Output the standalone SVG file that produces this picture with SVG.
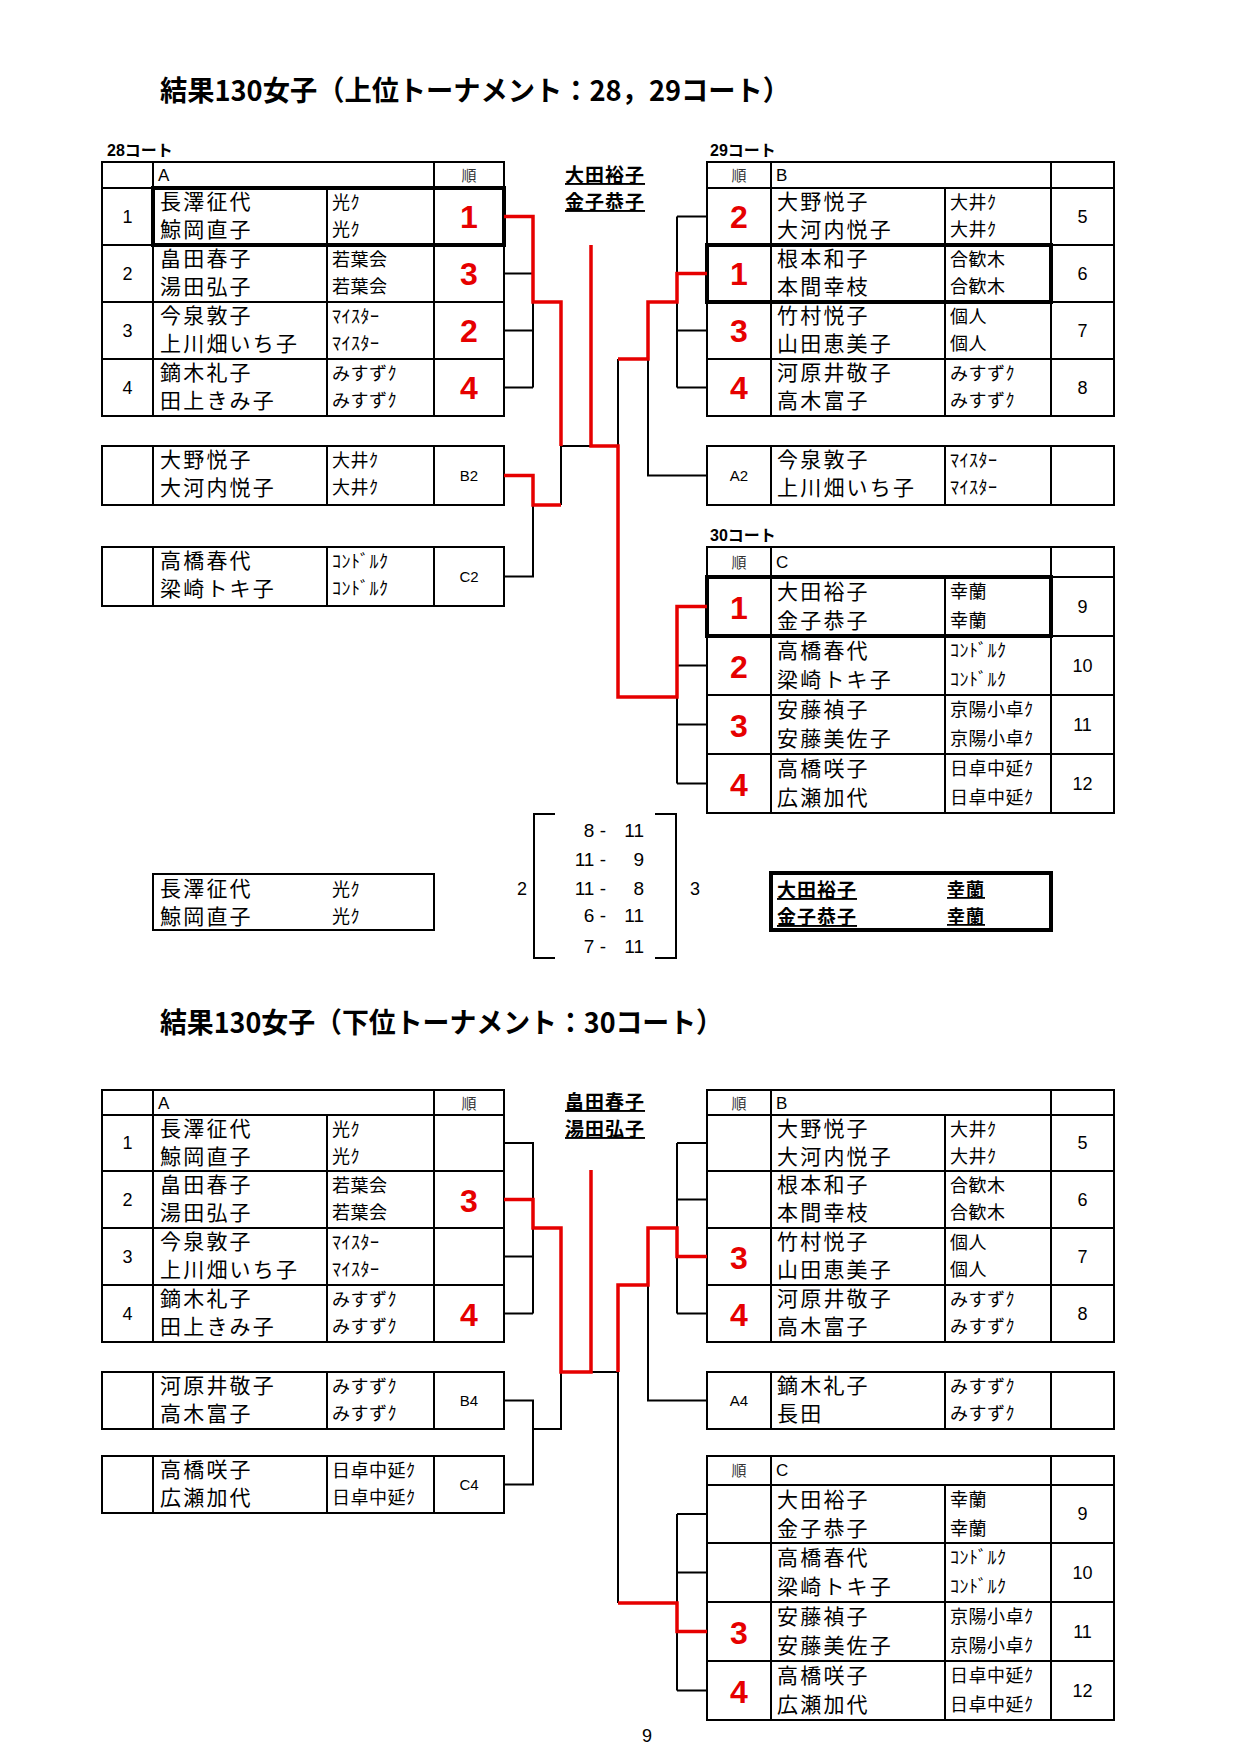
<svg xmlns="http://www.w3.org/2000/svg" width="1240" height="1754" viewBox="0 0 1240 1754">
<style>
.g{fill:none;stroke:#000;stroke-width:2}
.tk{fill:none;stroke:#000;stroke-width:4}
.bk{fill:none;stroke:#000;stroke-width:2}
.rd{fill:none;stroke:#e60000;stroke-width:3.5}
text{font-family:"Noto Sans CJK JP",sans-serif;fill:#000}
.nm{font-size:21px;letter-spacing:2.2px}
.cl{font-size:18px;letter-spacing:0.5px}
.n{font-family:"Liberation Sans",Arial,sans-serif;font-size:18px;text-anchor:middle}
.h{font-family:"Liberation Sans",Arial,sans-serif;font-size:17px}
.j{font-size:15px;text-anchor:middle;fill:#333}
.rk{font-family:"Liberation Sans",Arial,sans-serif;font-size:32px;font-weight:bold;fill:#e60000;text-anchor:middle}
.lb{font-family:"Liberation Sans",Arial,sans-serif;font-size:15px;text-anchor:middle}
.tt{font-size:28px;font-weight:bold}
.ct{font-family:"Liberation Sans","Noto Sans CJK JP",sans-serif;font-size:16px;font-weight:bold}
.w{font-size:19px;font-weight:bold;text-decoration:underline;letter-spacing:1px}
.sc{font-family:"Liberation Sans",Arial,sans-serif;font-size:19px;text-anchor:end}
.sl{font-family:"Liberation Sans",Arial,sans-serif;font-size:18px;text-anchor:middle}
</style>
<rect width="1240" height="1754" fill="#fff"/>

<g id="titles">
<text class="tt" x="160" y="101" textLength="630" lengthAdjust="spacingAndGlyphs">結果130女子（上位トーナメント：28，29コート）</text>
<text class="tt" x="160" y="1033" textLength="563" lengthAdjust="spacingAndGlyphs">結果130女子（下位トーナメント：30コート）</text>
<text class="ct" x="107" y="156">28コート</text>
<text class="ct" x="710" y="156">29コート</text>
<text class="ct" x="710" y="541">30コート</text>
<text class="w" x="565" y="182">大田裕子</text>
<text class="w" x="565" y="209">金子恭子</text>
<text class="w" x="565" y="1109">畠田春子</text>
<text class="w" x="565" y="1136">湯田弘子</text>
<text class="n" x="647" y="1742">9</text>
</g>

<!-- ===== UPPER A ===== -->
<g id="up-A">
<rect class="g" x="102" y="162" width="402" height="254"/>
<path class="g" d="M102 188H504M102 245H504M102 302H504M102 359H504M153 162V416M434 162V416M327 188V416"/>
<text class="h" x="158" y="181">A</text>
<text class="j" x="469" y="181">順</text>
<text class="n" x="127.5" y="222.5">1</text>
<text class="nm" x="160" y="209">長澤征代</text><text class="nm" x="160" y="237">鯨岡直子</text>
<text class="cl" x="332" y="209">光ｸ</text><text class="cl" x="332" y="236">光ｸ</text>
<text class="rk" x="469" y="228">1</text>
<text class="n" x="127.5" y="279.5">2</text>
<text class="nm" x="160" y="266">畠田春子</text><text class="nm" x="160" y="294">湯田弘子</text>
<text class="cl" x="332" y="266">若葉会</text><text class="cl" x="332" y="293">若葉会</text>
<text class="rk" x="469" y="285">3</text>
<text class="n" x="127.5" y="336.5">3</text>
<text class="nm" x="160" y="323">今泉敦子</text><text class="nm" x="160" y="351">上川畑いち子</text>
<text class="cl" x="332" y="323">ﾏｲｽﾀｰ</text><text class="cl" x="332" y="350">ﾏｲｽﾀｰ</text>
<text class="rk" x="469" y="342">2</text>
<text class="n" x="127.5" y="393.5">4</text>
<text class="nm" x="160" y="380">鏑木礼子</text><text class="nm" x="160" y="408">田上きみ子</text>
<text class="cl" x="332" y="380">みすずｸ</text><text class="cl" x="332" y="407">みすずｸ</text>
<text class="rk" x="469" y="399">4</text>
<rect class="tk" x="153" y="188" width="351" height="57"/>
</g>

<!-- ===== UPPER B ===== -->
<g id="up-B">
<rect class="g" x="707" y="162" width="407" height="254"/>
<path class="g" d="M707 188H1114M707 245H1114M707 302H1114M707 359H1114M771 162V416M1051 162V416M945 188V416"/>
<text class="j" x="739" y="181">順</text>
<text class="h" x="776" y="181">B</text>
<text class="rk" x="739" y="228">2</text>
<text class="nm" x="777" y="209">大野悦子</text><text class="nm" x="777" y="237">大河内悦子</text>
<text class="cl" x="950" y="209">大井ｸ</text><text class="cl" x="950" y="236">大井ｸ</text>
<text class="n" x="1082.5" y="222.5">5</text>
<text class="rk" x="739" y="285">1</text>
<text class="nm" x="777" y="266">根本和子</text><text class="nm" x="777" y="294">本間幸枝</text>
<text class="cl" x="950" y="266">合歓木</text><text class="cl" x="950" y="293">合歓木</text>
<text class="n" x="1082.5" y="279.5">6</text>
<text class="rk" x="739" y="342">3</text>
<text class="nm" x="777" y="323">竹村悦子</text><text class="nm" x="777" y="351">山田恵美子</text>
<text class="cl" x="950" y="323">個人</text><text class="cl" x="950" y="350">個人</text>
<text class="n" x="1082.5" y="336.5">7</text>
<text class="rk" x="739" y="399">4</text>
<text class="nm" x="777" y="380">河原井敬子</text><text class="nm" x="777" y="408">高木富子</text>
<text class="cl" x="950" y="380">みすずｸ</text><text class="cl" x="950" y="407">みすずｸ</text>
<text class="n" x="1082.5" y="393.5">8</text>
<rect class="tk" x="707" y="245" width="344" height="57"/>
</g>

<g id="up-B2">
<rect class="g" x="102" y="446" width="402" height="59"/>
<path class="g" d="M153 446V505M327 446V505M434 446V505"/>
<text class="nm" x="160" y="467">大野悦子</text><text class="nm" x="160" y="495">大河内悦子</text>
<text class="cl" x="332" y="467">大井ｸ</text><text class="cl" x="332" y="494">大井ｸ</text>
<text class="lb" x="469" y="481">B2</text>
</g>

<g id="up-C2">
<rect class="g" x="102" y="547" width="402" height="59"/>
<path class="g" d="M153 547V606M327 547V606M434 547V606"/>
<text class="nm" x="160" y="568">高橋春代</text><text class="nm" x="160" y="596">梁崎トキ子</text>
<text class="cl" x="332" y="568">ｺﾝﾄﾞﾙｸ</text><text class="cl" x="332" y="595">ｺﾝﾄﾞﾙｸ</text>
<text class="lb" x="469" y="582">C2</text>
</g>

<g id="up-A2">
<rect class="g" x="707" y="446" width="407" height="59"/>
<path class="g" d="M771 446V505M945 446V505M1051 446V505"/>
<text class="lb" x="739" y="481">A2</text>
<text class="nm" x="777" y="467">今泉敦子</text><text class="nm" x="777" y="495">上川畑いち子</text>
<text class="cl" x="950" y="467">ﾏｲｽﾀｰ</text><text class="cl" x="950" y="494">ﾏｲｽﾀｰ</text>
</g>

<!-- ===== UPPER C ===== -->
<g id="up-C">
<rect class="g" x="707" y="547" width="407" height="266"/>
<path class="g" d="M707 577H1114M707 636H1114M707 695H1114M707 754H1114M771 547V813M1051 547V813M945 577V813"/>
<text class="j" x="739" y="568">順</text>
<text class="h" x="776" y="568">C</text>
<text class="rk" x="739" y="618.5">1</text>
<text class="nm" x="777" y="599">大田裕子</text><text class="nm" x="777" y="628">金子恭子</text>
<text class="cl" x="950" y="598">幸蘭</text><text class="cl" x="950" y="627">幸蘭</text>
<text class="n" x="1082.5" y="612.5">9</text>
<text class="rk" x="739" y="677.5">2</text>
<text class="nm" x="777" y="658">高橋春代</text><text class="nm" x="777" y="687">梁崎トキ子</text>
<text class="cl" x="950" y="657">ｺﾝﾄﾞﾙｸ</text><text class="cl" x="950" y="686">ｺﾝﾄﾞﾙｸ</text>
<text class="n" x="1082.5" y="671.5">10</text>
<text class="rk" x="739" y="736.5">3</text>
<text class="nm" x="777" y="717">安藤禎子</text><text class="nm" x="777" y="746">安藤美佐子</text>
<text class="cl" x="950" y="716">京陽小卓ｸ</text><text class="cl" x="950" y="745">京陽小卓ｸ</text>
<text class="n" x="1082.5" y="730.5">11</text>
<text class="rk" x="739" y="795.5">4</text>
<text class="nm" x="777" y="776">高橋咲子</text><text class="nm" x="777" y="805">広瀬加代</text>
<text class="cl" x="950" y="775">日卓中延ｸ</text><text class="cl" x="950" y="804">日卓中延ｸ</text>
<text class="n" x="1082.5" y="789.5">12</text>
<rect class="tk" x="707" y="577" width="344" height="59"/>
</g>

<!-- ===== RESULT ===== -->
<g id="result-left">
<rect class="g" x="153" y="874" width="281" height="56"/>
<text class="nm" x="160" y="896">長澤征代</text><text class="nm" x="160" y="924">鯨岡直子</text>
<text class="cl" x="332" y="896">光ｸ</text><text class="cl" x="332" y="923">光ｸ</text>
</g>
<g id="scores">
<path class="bk" d="M555 814H534V958H555M655 814H676V958H655"/>
<text class="sl" x="522" y="895">2</text>
<text class="sl" x="695" y="895">3</text>
<text class="sc" x="606" y="837">8 -</text><text class="sc" x="644" y="837">11</text>
<text class="sc" x="606" y="866">11 -</text><text class="sc" x="644" y="866">9</text>
<text class="sc" x="606" y="895">11 -</text><text class="sc" x="644" y="895">8</text>
<text class="sc" x="606" y="922">6 -</text><text class="sc" x="644" y="922">11</text>
<text class="sc" x="606" y="953">7 -</text><text class="sc" x="644" y="953">11</text>
</g>
<g id="result-right">
<rect class="tk" x="771" y="873" width="280" height="57"/>
<text class="w" x="777" y="897">大田裕子</text><text class="w" x="777" y="924">金子恭子</text>
<text class="w" x="947" y="896" style="font-size:18px">幸蘭</text><text class="w" x="947" y="923" style="font-size:18px">幸蘭</text>
</g>

<!-- ===== LOWER A ===== -->
<g id="lo-A">
<rect class="g" x="102" y="1090" width="402" height="252"/>
<path class="g" d="M102 1115H504M102 1171H504M102 1228H504M102 1285H504M153 1090V1342M434 1090V1342M327 1115V1342"/>
<text class="h" x="158" y="1109">A</text>
<text class="j" x="469" y="1109">順</text>
<text class="n" x="127.5" y="1149">1</text>
<text class="nm" x="160" y="1136">長澤征代</text><text class="nm" x="160" y="1164">鯨岡直子</text>
<text class="cl" x="332" y="1136">光ｸ</text><text class="cl" x="332" y="1163">光ｸ</text>
<text class="n" x="127.5" y="1205.5">2</text>
<text class="nm" x="160" y="1192">畠田春子</text><text class="nm" x="160" y="1220">湯田弘子</text>
<text class="cl" x="332" y="1192">若葉会</text><text class="cl" x="332" y="1219">若葉会</text>
<text class="rk" x="469" y="1211.5">3</text>
<text class="n" x="127.5" y="1262.5">3</text>
<text class="nm" x="160" y="1249">今泉敦子</text><text class="nm" x="160" y="1277">上川畑いち子</text>
<text class="cl" x="332" y="1249">ﾏｲｽﾀｰ</text><text class="cl" x="332" y="1276">ﾏｲｽﾀｰ</text>
<text class="n" x="127.5" y="1319.5">4</text>
<text class="nm" x="160" y="1306">鏑木礼子</text><text class="nm" x="160" y="1334">田上きみ子</text>
<text class="cl" x="332" y="1306">みすずｸ</text><text class="cl" x="332" y="1333">みすずｸ</text>
<text class="rk" x="469" y="1325.5">4</text>
</g>

<g id="lo-B">
<rect class="g" x="707" y="1090" width="407" height="252"/>
<path class="g" d="M707 1115H1114M707 1171H1114M707 1228H1114M707 1285H1114M771 1090V1342M1051 1090V1342M945 1115V1342"/>
<text class="j" x="739" y="1109">順</text>
<text class="h" x="776" y="1109">B</text>
<text class="nm" x="777" y="1136">大野悦子</text><text class="nm" x="777" y="1164">大河内悦子</text>
<text class="cl" x="950" y="1136">大井ｸ</text><text class="cl" x="950" y="1163">大井ｸ</text>
<text class="n" x="1082.5" y="1149">5</text>
<text class="nm" x="777" y="1192">根本和子</text><text class="nm" x="777" y="1220">本間幸枝</text>
<text class="cl" x="950" y="1192">合歓木</text><text class="cl" x="950" y="1219">合歓木</text>
<text class="n" x="1082.5" y="1205.5">6</text>
<text class="rk" x="739" y="1268.5">3</text>
<text class="nm" x="777" y="1249">竹村悦子</text><text class="nm" x="777" y="1277">山田恵美子</text>
<text class="cl" x="950" y="1249">個人</text><text class="cl" x="950" y="1276">個人</text>
<text class="n" x="1082.5" y="1262.5">7</text>
<text class="rk" x="739" y="1325.5">4</text>
<text class="nm" x="777" y="1306">河原井敬子</text><text class="nm" x="777" y="1334">高木富子</text>
<text class="cl" x="950" y="1306">みすずｸ</text><text class="cl" x="950" y="1333">みすずｸ</text>
<text class="n" x="1082.5" y="1319.5">8</text>
</g>

<g id="lo-B4">
<rect class="g" x="102" y="1372" width="402" height="57"/>
<path class="g" d="M153 1372V1429M327 1372V1429M434 1372V1429"/>
<text class="nm" x="160" y="1393">河原井敬子</text><text class="nm" x="160" y="1421">高木富子</text>
<text class="cl" x="332" y="1393">みすずｸ</text><text class="cl" x="332" y="1420">みすずｸ</text>
<text class="lb" x="469" y="1406">B4</text>
</g>

<g id="lo-C4">
<rect class="g" x="102" y="1456" width="402" height="57"/>
<path class="g" d="M153 1456V1513M327 1456V1513M434 1456V1513"/>
<text class="nm" x="160" y="1477">高橋咲子</text><text class="nm" x="160" y="1505">広瀬加代</text>
<text class="cl" x="332" y="1477">日卓中延ｸ</text><text class="cl" x="332" y="1504">日卓中延ｸ</text>
<text class="lb" x="469" y="1490">C4</text>
</g>

<g id="lo-A4">
<rect class="g" x="707" y="1372" width="407" height="57"/>
<path class="g" d="M771 1372V1429M945 1372V1429M1051 1372V1429"/>
<text class="lb" x="739" y="1406">A4</text>
<text class="nm" x="777" y="1393">鏑木礼子</text><text class="nm" x="777" y="1421">長田</text>
<text class="cl" x="950" y="1393">みすずｸ</text><text class="cl" x="950" y="1420">みすずｸ</text>
</g>

<g id="lo-C">
<rect class="g" x="707" y="1456" width="407" height="264"/>
<path class="g" d="M707 1485H1114M707 1543H1114M707 1602H1114M707 1661H1114M771 1456V1720M1051 1456V1720M945 1485V1720"/>
<text class="j" x="739" y="1476">順</text>
<text class="h" x="776" y="1476">C</text>
<text class="nm" x="777" y="1507">大田裕子</text><text class="nm" x="777" y="1536">金子恭子</text>
<text class="cl" x="950" y="1506">幸蘭</text><text class="cl" x="950" y="1535">幸蘭</text>
<text class="n" x="1082.5" y="1520">9</text>
<text class="nm" x="777" y="1565">高橋春代</text><text class="nm" x="777" y="1594">梁崎トキ子</text>
<text class="cl" x="950" y="1564">ｺﾝﾄﾞﾙｸ</text><text class="cl" x="950" y="1593">ｺﾝﾄﾞﾙｸ</text>
<text class="n" x="1082.5" y="1578.5">10</text>
<text class="rk" x="739" y="1643.5">3</text>
<text class="nm" x="777" y="1624">安藤禎子</text><text class="nm" x="777" y="1653">安藤美佐子</text>
<text class="cl" x="950" y="1623">京陽小卓ｸ</text><text class="cl" x="950" y="1652">京陽小卓ｸ</text>
<text class="n" x="1082.5" y="1637.5">11</text>
<text class="rk" x="739" y="1702.5">4</text>
<text class="nm" x="777" y="1683">高橋咲子</text><text class="nm" x="777" y="1712">広瀬加代</text>
<text class="cl" x="950" y="1682">日卓中延ｸ</text><text class="cl" x="950" y="1711">日卓中延ｸ</text>
<text class="n" x="1082.5" y="1696.5">12</text>
</g>

<!-- ===== CONNECTORS ===== -->
<g id="connectors">
<path class="bk" d="M533 302V387.5M504 273.5H533M504 330.5H533M504 387.5H533"/>
<path class="bk" d="M561 446V505M533 505V576.5H504"/>
<path class="bk" d="M561 446H591M618 359V446"/>
<path class="bk" d="M677 216.5V273.5M677 302V387.5M707 216.5H677M707 330.5H677M707 387.5H677"/>
<path class="bk" d="M648 359V475.5H707"/>
<path class="bk" d="M677 697V783.5M707 665.5H677M707 724.5H677M707 783.5H677"/>
<path class="rd" d="M504 216.5H533V302H561V446"/>
<path class="rd" d="M504 475.5H533V505H561"/>
<path class="rd" d="M591 245V446H618V697H677V606.5H707"/>
<path class="rd" d="M707 273.5H677V302H648V359H618"/>

<path class="bk" d="M504 1143H533V1199.5M533 1228V1313.5M504 1256.5H533M504 1313.5H533"/>
<path class="bk" d="M504 1400.5H533V1484.5H504M533 1429H561V1372"/>
<path class="bk" d="M591 1372H618V1603"/>
<path class="bk" d="M677 1143V1228M677 1256.5V1313.5M707 1143H677M707 1199.5H677M707 1313.5H677"/>
<path class="bk" d="M648 1285V1400.5H707"/>
<path class="bk" d="M677 1514V1603M677 1631.5V1690.5M707 1514H677M707 1572.5H677M707 1690.5H677"/>
<path class="rd" d="M504 1199.5H533V1228H561V1372H591V1170"/>
<path class="rd" d="M707 1256.5H677V1228H648V1285H618V1372"/>
<path class="rd" d="M618 1603H677V1631.5H707"/>
</g>
</svg>
